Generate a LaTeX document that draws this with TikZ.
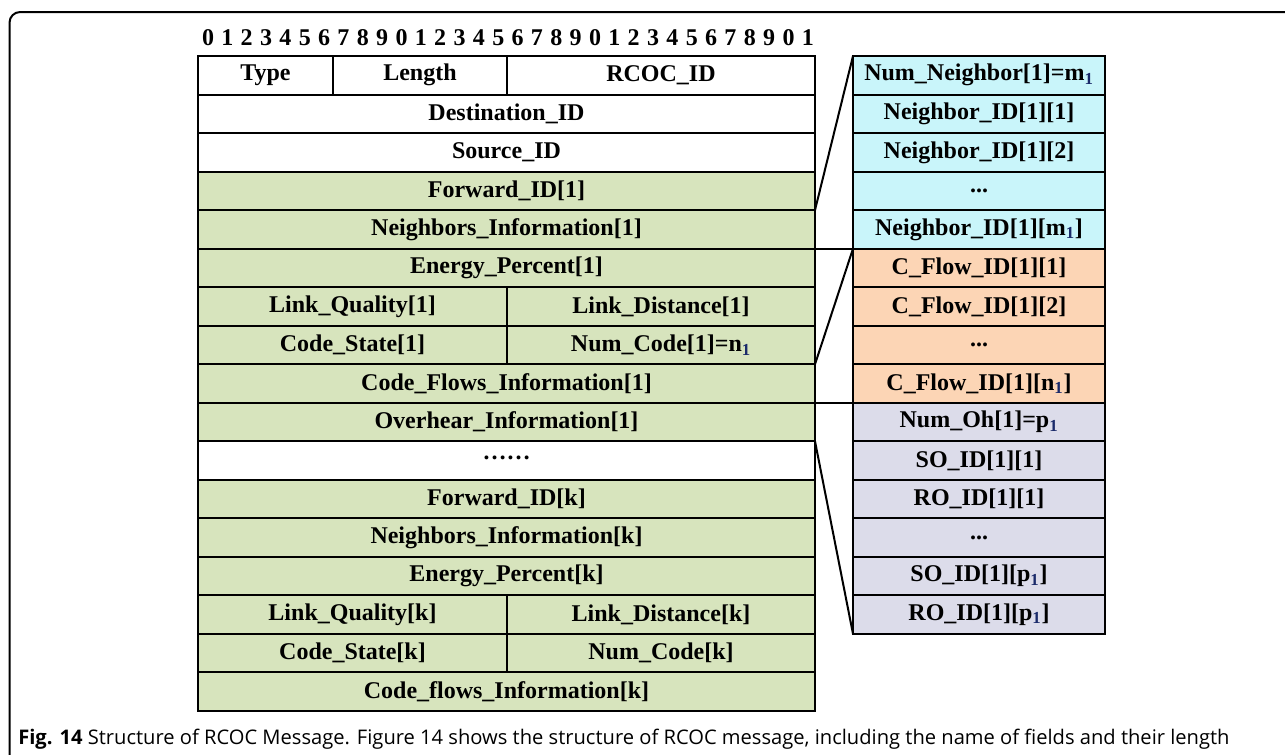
\documentclass[tikz,border=0pt]{standalone}
\usepackage{fontspec}
\setmainfont{Liberation Serif}
\newfontfamily\capfont{Open Sans}
\definecolor{fgreen}{HTML}{D7E4BD}
\definecolor{fcyan}{HTML}{C9F5FA}
\definecolor{forange}{HTML}{FCD5B5}
\definecolor{flav}{HTML}{DCDCEA}
\definecolor{subblue}{HTML}{1A2A6A}
\newcommand\sub[1]{\textsubscript{\textcolor{subblue}{#1}}}
% one field of the message: name, left x, right x, row, fill, label
\newcommand\fieldcell[6]{%
  \node[fieldbox, fill=#5, minimum width={(#3-#2)*0.75pt}]
    (#1) at ({(#2+#3)/2},{75.26+38.53*#4}) {#6};}
\tikzset{
  fieldbox/.style={draw, line width=1.5pt, inner sep=0pt, outer sep=0pt,
    minimum height=28.9pt, font=\fontsize{18}{20}\selectfont\bfseries},
  link/.style={draw, line width=1.5pt},
  bitnum/.style={inner sep=0pt, font=\fontsize{18}{20}\selectfont\bfseries}
}
\begin{document}
\begin{tikzpicture}[x=0.75pt, y=-0.75pt]
\useasboundingbox (0,0) rectangle (1285,754);
% outer frame
\draw[line width=1.5pt, rounded corners=8pt] (9.5,760) -- (9.5,12) -- (1290,12);
% bit ruler
\foreach \i [evaluate=\i as \d using {int(mod(\i,10))}] in {0,...,31}
  \node[bitnum] (bit\i) at ({208+19.35*\i},38) {\d};
% left column
\fieldcell{type}{198}{333}{0}{white}{Type}
\fieldcell{len}{333}{507}{0}{white}{Length}
\fieldcell{rcoc}{507}{815}{0}{white}{RCOC\_ID}
\fieldcell{dst}{198}{815}{1}{white}{Destination\_ID}
\fieldcell{src}{198}{815}{2}{white}{Source\_ID}
\fieldcell{fwd1}{198}{815}{3}{fgreen}{Forward\_ID[1]}
\fieldcell{nbr1}{198}{815}{4}{fgreen}{Neighbors\_Information[1]}
\fieldcell{en1}{198}{815}{5}{fgreen}{Energy\_Percent[1]}
\fieldcell{lq1}{198}{507}{6}{fgreen}{Link\_Quality[1]}
\fieldcell{ld1}{507}{815}{6}{fgreen}{Link\_Distance[1]}
\fieldcell{cs1}{198}{507}{7}{fgreen}{Code\_State[1]}
\fieldcell{nc1}{507}{815}{7}{fgreen}{Num\_Code[1]=n\sub{1}}
\fieldcell{cf1}{198}{815}{8}{fgreen}{Code\_Flows\_Information[1]}
\fieldcell{oh1}{198}{815}{9}{fgreen}{Overhear\_Information[1]}
\fieldcell{dots}{198}{815}{10}{white}{\raisebox{0.45ex}{……}}
\fieldcell{fwdk}{198}{815}{11}{fgreen}{Forward\_ID[k]}
\fieldcell{nbrk}{198}{815}{12}{fgreen}{Neighbors\_Information[k]}
\fieldcell{enk}{198}{815}{13}{fgreen}{Energy\_Percent[k]}
\fieldcell{lqk}{198}{507}{14}{fgreen}{Link\_Quality[k]}
\fieldcell{ldk}{507}{815}{14}{fgreen}{Link\_Distance[k]}
\fieldcell{csk}{198}{507}{15}{fgreen}{Code\_State[k]}
\fieldcell{nck}{507}{815}{15}{fgreen}{Num\_Code[k]}
\fieldcell{cfk}{198}{815}{16}{fgreen}{Code\_flows\_Information[k]}
% right column: neighbour list
\fieldcell{rn0}{853}{1105}{0}{fcyan}{Num\_Neighbor[1]=m\sub{1}}
\fieldcell{rn1}{853}{1105}{1}{fcyan}{Neighbor\_ID[1][1]}
\fieldcell{rn2}{853}{1105}{2}{fcyan}{Neighbor\_ID[1][2]}
\fieldcell{rn3}{853}{1105}{3}{fcyan}{...}
\fieldcell{rn4}{853}{1105}{4}{fcyan}{Neighbor\_ID[1][m\sub{1}]}
% right column: code flow list
\fieldcell{rc0}{853}{1105}{5}{forange}{C\_Flow\_ID[1][1]}
\fieldcell{rc1}{853}{1105}{6}{forange}{C\_Flow\_ID[1][2]}
\fieldcell{rc2}{853}{1105}{7}{forange}{...}
\fieldcell{rc3}{853}{1105}{8}{forange}{C\_Flow\_ID[1][n\sub{1}]}
% right column: overheard list
\fieldcell{ro0}{853}{1105}{9}{flav}{Num\_Oh[1]=p\sub{1}}
\fieldcell{ro1}{853}{1105}{10}{flav}{SO\_ID[1][1]}
\fieldcell{ro2}{853}{1105}{11}{flav}{RO\_ID[1][1]}
\fieldcell{ro3}{853}{1105}{12}{flav}{...}
\fieldcell{ro4}{853}{1105}{13}{flav}{SO\_ID[1][p\sub{1}]}
\fieldcell{ro5}{853}{1105}{14}{flav}{RO\_ID[1][p\sub{1}]}
% expansion lines
\draw[link] (nbr1.north east) -- (rn0.north west);
\draw[link] (nbr1.south east) -- (rn4.south west);
\draw[link] (cf1.north east) -- (rc0.north west);
\draw[link] (cf1.south east) -- (rc3.south west);
\draw[link] (oh1.south east) -- (ro5.south west);
% caption
\node[anchor=west, inner sep=0pt, font=\capfont\fontsize{15.1}{17}\selectfont] (cap) at (18,739)
  {\textbf{Fig. 14} Structure of RCOC Message. Figure 14 shows the structure of RCOC message, including the name of fields and their length};
\end{tikzpicture}
\end{document}
